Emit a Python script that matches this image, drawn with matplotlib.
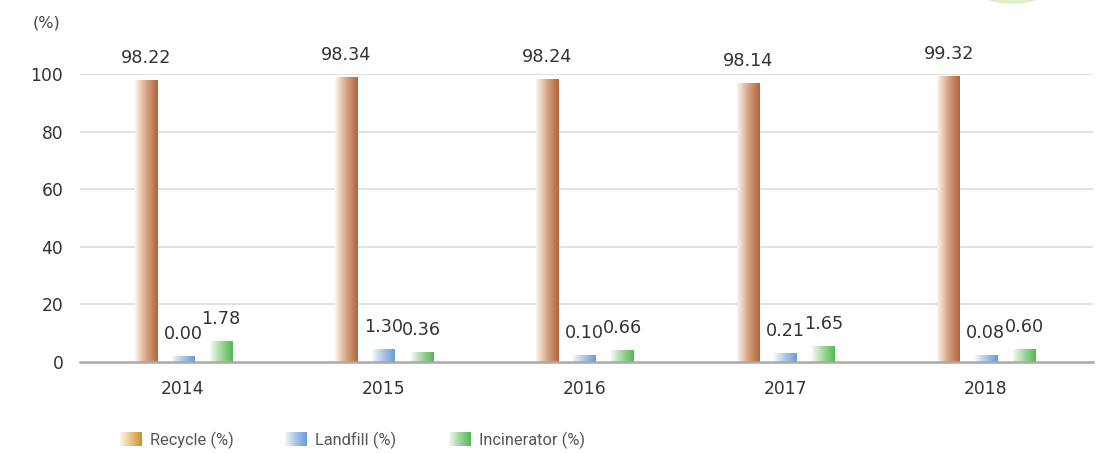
import numpy as np
import matplotlib
matplotlib.use('Agg')
import matplotlib.pyplot as plt
from matplotlib.colors import LinearSegmentedColormap
from matplotlib.patches import Ellipse

# data
years = ['2014', '2015', '2016', '2017', '2018']
series = ['Recycle (%)', 'Landfill (%)', 'Incinerator (%)']
# heights of the drawn bars
recycle_h = [97.9, 98.8, 98.3, 96.9, 99.4]
landfill_h = [2.1, 4.5, 2.4, 3.2, 2.4]
incin_h = [7.3, 3.5, 4.2, 5.6, 4.5]
# printed value labels
recycle_lbl = ['98.22', '98.34', '98.24', '98.14', '99.32']
landfill_lbl = ['0.00', '1.30', '0.10', '0.21', '0.08']
incin_lbl = ['1.78', '0.36', '0.66', '1.65', '0.60']
yticks = [0, 20, 40, 60, 80, 100]

bar_cmaps = [
    LinearSegmentedColormap.from_list('rec', ['#fcf5ec', '#d6a384', '#b2643a']),
    LinearSegmentedColormap.from_list('land', ['#f4f8fd', '#a9c5e9', '#6a9bd6']),
    LinearSegmentedColormap.from_list('inc', ['#f3faf0', '#a0d69d', '#55b855']),
]
leg_cmaps = [
    LinearSegmentedColormap.from_list('rec_l', ['#fdf5ea', '#e8c48c', '#cf8e2c']),
    LinearSegmentedColormap.from_list('land_l', ['#f2f7fd', '#a6c3e8', '#6a9bd6']),
    LinearSegmentedColormap.from_list('inc_l', ['#f1f9ee', '#9dd49a', '#55b855']),
]
grad = np.linspace(0, 1, 64).reshape(1, -1)

W, H = 1097, 453
fig = plt.figure(figsize=(W / 100, H / 100), dpi=100)
ax = fig.add_axes([80 / W, (H - 362) / H, (1093 - 80) / W, 288 / H])

x = np.arange(len(years))
offsets = [-0.185, 0.0, 0.19]
width = 0.112
heights = [recycle_h, landfill_h, incin_h]
labels = [recycle_lbl, landfill_lbl, incin_lbl]

for hs, lbls, off, cm in zip(heights, labels, offsets, bar_cmaps):
    bars = ax.bar(x + off, hs, width, color='none', edgecolor='none', zorder=3)
    for b, lbl in zip(bars, lbls):
        x0, y0 = b.get_x(), b.get_y()
        im = ax.imshow(grad, cmap=cm, aspect='auto', zorder=3,
                       extent=[x0, x0 + b.get_width(), y0, y0 + b.get_height()])
        im.set_clip_path(b)
        ax.annotate(lbl, (x0 + b.get_width() / 2, b.get_height()),
                    xytext=(0, 16), textcoords='offset points',
                    ha='center', va='center', fontsize=12.7, color='#333333')

ax.set_xlim(-0.513, 4.534)
ax.set_ylim(0, 100)
for v in yticks[1:]:
    ax.axhline(v, color='#dcdcdc', lw=1.2, zorder=1)
ax.axhline(0, color='#a9a9a9', lw=1.8, zorder=4, clip_on=False)

for s in ax.spines.values():
    s.set_visible(False)
ax.set_yticks(yticks)
ax.set_yticklabels([str(v) for v in yticks], fontsize=12.3, color='#333333')
ax.set_xticks(x)
ax.set_xticklabels(years, fontsize=12.3, color='#333333')
ax.tick_params(axis='y', length=0, pad=12)
ax.tick_params(axis='x', length=0, pad=13)

fig.text(47 / W, 1 - 23 / H, '(%)', ha='center', va='center', fontsize=11.5, color='#444444')

# overlay for legend and decoration, in pixel units
ov = fig.add_axes([0, 0, 1, 1], zorder=-1)
ov.axis('off')
ov.add_patch(Ellipse((1012, -152), 230, 310, facecolor='#e2efd0', edgecolor='#d6e8bf', lw=0.8))

leg_x = [120, 285, 449]
for lx, name, cm in zip(leg_x, series, leg_cmaps):
    ov.imshow(grad, cmap=cm, aspect='auto', extent=[lx, lx + 22, 446, 432])
    ov.text(lx + 30, 440, name, ha='left', va='center', fontsize=11.8,
            family='Roboto', color='#555555')
ov.set_xlim(0, W)
ov.set_ylim(H, 0)

fig.savefig('out.png', dpi=100)
